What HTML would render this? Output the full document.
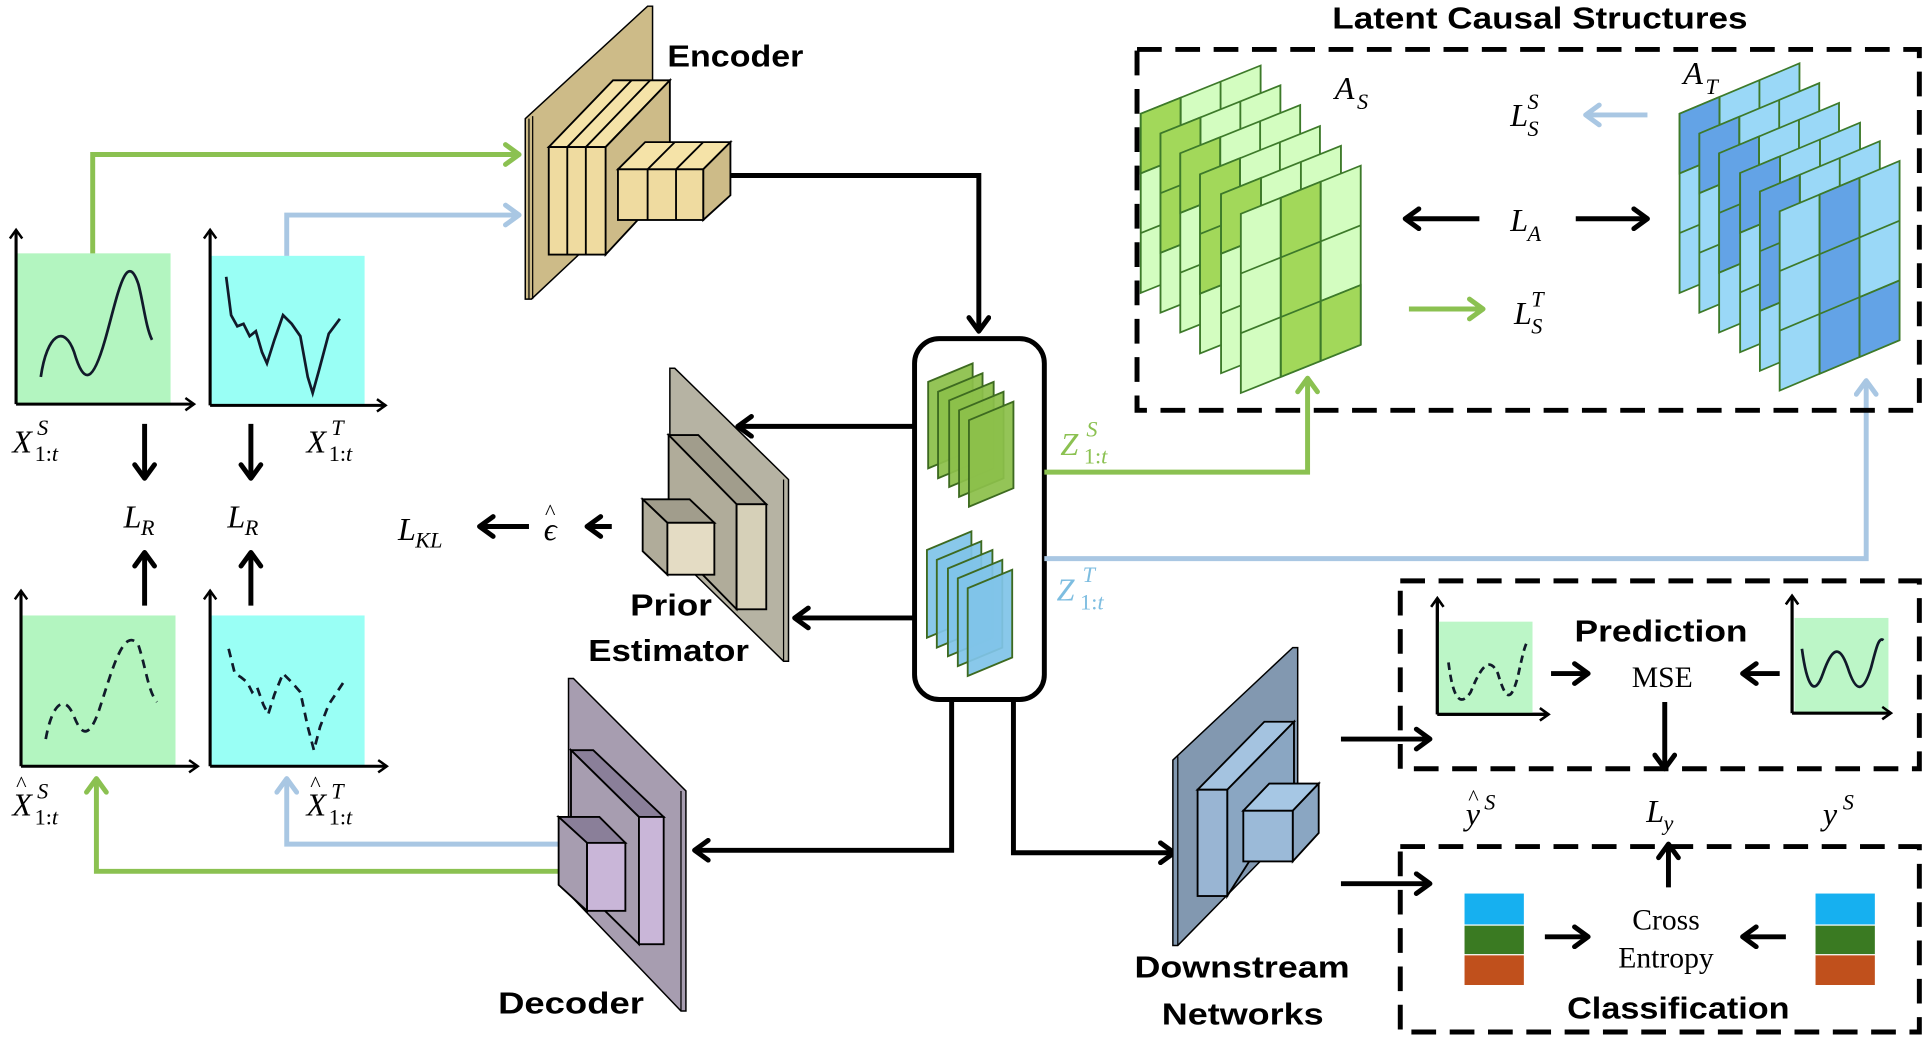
<!DOCTYPE html>
<html><head><meta charset="utf-8"><style>
html,body{margin:0;padding:0;background:#fff;}
svg{display:block;}
.lb{font-family:"Liberation Sans",sans-serif;font-weight:bold;font-size:25px;fill:#000;}
.m{font-family:"Liberation Serif",serif;font-style:italic;}
.r{font-family:"Liberation Serif",serif;}
</style></head><body>
<svg width="1928" height="1040" viewBox="0 0 1560 841.5" xmlns="http://www.w3.org/2000/svg">
<defs>
<marker id="ak" viewBox="0 0 20 20" refX="17" refY="10" markerWidth="20" markerHeight="20" markerUnits="userSpaceOnUse" orient="auto"><path d="M6,2 L17,10 L6,18" fill="none" stroke="#000" stroke-width="4" stroke-linecap="round" stroke-linejoin="round"/></marker>
<marker id="ag" viewBox="0 0 20 20" refX="17" refY="10" markerWidth="20" markerHeight="20" markerUnits="userSpaceOnUse" orient="auto"><path d="M6,2 L17,10 L6,18" fill="none" stroke="#8bc151" stroke-width="4" stroke-linecap="round" stroke-linejoin="round"/></marker>
<marker id="ab" viewBox="0 0 20 20" refX="17" refY="10" markerWidth="20" markerHeight="20" markerUnits="userSpaceOnUse" orient="auto"><path d="M6,2 L17,10 L6,18" fill="none" stroke="#a9c7e3" stroke-width="4" stroke-linecap="round" stroke-linejoin="round"/></marker>
<marker id="ax" viewBox="0 0 12 12" refX="10" refY="6" markerWidth="12" markerHeight="12" markerUnits="userSpaceOnUse" orient="auto"><path d="M3,1 L10,6 L3,11" fill="none" stroke="#000" stroke-width="2"/></marker>
</defs>

<!-- Left plots -->
<rect x="13" y="205" width="125" height="122" fill="#b3f5c0"/>
<rect x="170" y="207" width="125" height="121" fill="#99fff5"/>
<rect x="17" y="498" width="125" height="122" fill="#b3f5c0"/>
<rect x="170" y="498" width="125" height="122" fill="#99fff5"/>
<g stroke="#000" stroke-width="2.5" fill="none" marker-end="url(#ax)">
<path d="M13,327 V186"/><path d="M13,327 H157"/>
<path d="M170,328 V186"/><path d="M170,328 H312"/>
<path d="M17,620 V478"/><path d="M17,620 H160"/>
<path d="M170,620 V478"/><path d="M170,620 H313"/>
<path d="M1163,578 V484"/><path d="M1163,578 H1253"/>
<path d="M1450,577 V482"/><path d="M1450,577 H1530"/>
</g>
<g stroke="#111a2a" stroke-width="2.2" fill="none">
<path d="M33,305 C38,270 52,262 60,285 C68,312 75,310 85,275 C95,240 102,200 112,230 C116,245 118,265 123,275"/>
<path d="M183,224 L187,255 L192,264 L197,262 L202,272 L207,268 L212,285 L216,294 L222,275 L229,255 L236,262 L243,272 L249,305 L253,318 L258,300 L266,270 L275,258"/>
<path stroke-dasharray="7,5" d="M37,598 C42,570 52,560 60,580 C66,595 72,598 80,575 C90,545 100,505 112,522 C118,540 120,560 127,568"/>
<path stroke-dasharray="7,5" d="M185,525 L190,545 L195,548 L200,552 L204,560 L208,556 L213,570 L217,578 L222,562 L229,545 L236,552 L243,560 L249,588 L254,607 L259,588 L266,570 L278,552"/>
<path stroke-dasharray="6,4" d="M1172,536 C1175,560 1180,575 1190,560 C1198,540 1205,530 1212,545 C1218,565 1222,570 1228,548 C1232,530 1234,520 1237,518"/>
<path d="M1458,525 C1462,555 1468,565 1475,545 C1482,525 1488,520 1495,540 C1502,562 1508,560 1514,540 C1518,525 1520,515 1524,518"/>
</g>

<!-- Left labels -->
<g class="m" font-size="26">
<text x="10" y="366">X</text><text x="30" y="352" font-size="18">S</text><text x="28" y="373" font-size="18" font-style="normal">1:<tspan font-style="italic">t</tspan></text>
<text x="248" y="366">X</text><text x="268" y="352" font-size="18">T</text><text x="266" y="373" font-size="18" font-style="normal">1:<tspan font-style="italic">t</tspan></text>
<text x="100" y="427">L</text><text x="114" y="433" font-size="18">R</text>
<text x="184" y="427">L</text><text x="198" y="433" font-size="18">R</text>
<text x="10" y="660">X</text><text x="13" y="640" font-size="18" font-style="normal">^</text><text x="30" y="646" font-size="18">S</text><text x="28" y="667" font-size="18" font-style="normal">1:<tspan font-style="italic">t</tspan></text>
<text x="248" y="660">X</text><text x="251" y="640" font-size="18" font-style="normal">^</text><text x="268" y="646" font-size="18">T</text><text x="266" y="667" font-size="18" font-style="normal">1:<tspan font-style="italic">t</tspan></text>
<text x="322" y="437">L</text><text x="336" y="443" font-size="18">KL</text>
<text x="440" y="437">ϵ</text><text x="441" y="420" font-size="18" font-style="normal">^</text>
</g>
<g stroke="#000" stroke-width="4" fill="none" marker-end="url(#ak)">
<path d="M117,343 V387"/><path d="M203,343 V387"/>
<path d="M117,490 V447"/><path d="M203,490 V447"/>
<path d="M495,426 H475"/><path d="M428,426 H388"/>
</g>

<!-- input lines -->
<path d="M75,205 V125 H420" stroke="#8bc151" stroke-width="4" fill="none" marker-end="url(#ag)"/>
<path d="M232,207 V174 H420" stroke="#a9c7e3" stroke-width="4" fill="none" marker-end="url(#ab)"/>
<path d="M455,683 H232 V630" stroke="#a9c7e3" stroke-width="4" fill="none" marker-end="url(#ab)"/>
<path d="M455,705 H78 V630" stroke="#8bc151" stroke-width="4" fill="none" marker-end="url(#ag)"/>

<!-- Encoder -->
<polygon points="425,96 524,5 528,5 528,150 430,242 425,242" fill="#cdbb88" stroke="#000" stroke-width="1.2"/>
<line x1="428" y1="96" x2="428" y2="242" stroke="#000" stroke-width="1"/>
<line x1="431" y1="94" x2="431" y2="242" stroke="#000" stroke-width="1"/>
<polygon points="444,119 490,119 542,65 496,65" fill="#f5e3a8" stroke="#000" stroke-width="1.5"/>
<line x1="459" y1="119" x2="511" y2="65" stroke="#000" stroke-width="1.5"/>
<line x1="474" y1="119" x2="526" y2="65" stroke="#000" stroke-width="1.5"/>
<polygon points="490,119 542,65 542,150 490,206" fill="#cdbb88" stroke="#000" stroke-width="1.5"/>
<rect x="444" y="119" width="46" height="87" fill="#efdba0" stroke="#000" stroke-width="1.5"/>
<line x1="459" y1="119" x2="459" y2="206" stroke="#000" stroke-width="1.5"/>
<line x1="474" y1="119" x2="474" y2="206" stroke="#000" stroke-width="1.5"/>
<polygon points="500,137 569,137 591,115 522,115" fill="#f5e3a8" stroke="#000" stroke-width="1.5"/>
<line x1="524" y1="137" x2="546" y2="115" stroke="#000" stroke-width="1.5"/>
<line x1="547" y1="137" x2="569" y2="115" stroke="#000" stroke-width="1.5"/>
<polygon points="569,137 591,115 591,158 569,178" fill="#cdbb88" stroke="#000" stroke-width="1.5"/>
<rect x="500" y="137" width="69" height="41" fill="#efdba0" stroke="#000" stroke-width="1.5"/>
<line x1="524" y1="137" x2="524" y2="178" stroke="#000" stroke-width="1.5"/>
<line x1="547" y1="137" x2="547" y2="178" stroke="#000" stroke-width="1.5"/>
<text class="lb" x="540" y="54" textLength="110" lengthAdjust="spacingAndGlyphs">Encoder</text>
<path d="M591,142 H792 V268" stroke="#000" stroke-width="4" fill="none" marker-end="url(#ak)"/>

<!-- Prior estimator -->
<polygon points="542,298 546,298 638,388 638,535 634,535 542,445" fill="#b6b3a3" stroke="#000" stroke-width="1.2"/>
<line x1="634" y1="388" x2="634" y2="535" stroke="#000" stroke-width="1"/>
<polygon points="541,352 565,352 620,408 596,408" fill="#a19d8c" stroke="#000" stroke-width="1.5"/>
<polygon points="541,352 596,408 596,493 541,437" fill="#b0ac9a" stroke="#000" stroke-width="1.5"/>
<rect x="596" y="408" width="24" height="85" fill="#d6d0b8" stroke="#000" stroke-width="1.5"/>
<polygon points="520,404 558,404 578,423 540,423" fill="#a19d8c" stroke="#000" stroke-width="1.5"/>
<polygon points="520,404 540,423 540,465 520,446" fill="#b0ac9a" stroke="#000" stroke-width="1.5"/>
<rect x="540" y="423" width="38" height="42" fill="#e4dcc4" stroke="#000" stroke-width="1.5"/>
<text class="lb" x="510" y="498" textLength="66" lengthAdjust="spacingAndGlyphs">Prior</text>
<text class="lb" x="476" y="535" textLength="130" lengthAdjust="spacingAndGlyphs">Estimator</text>

<!-- Decoder -->
<polygon points="460,549 464,549 555,640 555,818 551,818 460,723" fill="#a79db0" stroke="#000" stroke-width="1.2"/>
<line x1="551" y1="640" x2="551" y2="818" stroke="#000" stroke-width="1"/>
<polygon points="462,607 480,607 537,661 517,661" fill="#8a7f99" stroke="#000" stroke-width="1.5"/>
<polygon points="462,607 517,661 517,764 462,710" fill="#a79db0" stroke="#000" stroke-width="1.5"/>
<rect x="517" y="661" width="20" height="103" fill="#c9b6d8" stroke="#000" stroke-width="1.5"/>
<polygon points="452,661 485,661 506,682 475,682" fill="#8a7f99" stroke="#000" stroke-width="1.5"/>
<polygon points="452,661 475,682 475,737 452,716" fill="#a79db0" stroke="#000" stroke-width="1.5"/>
<rect x="475" y="682" width="31" height="55" fill="#c9b6d8" stroke="#000" stroke-width="1.5"/>
<text class="lb" x="403" y="820" textLength="118" lengthAdjust="spacingAndGlyphs">Decoder</text>

<!-- center box -->
<rect x="740" y="274" width="105" height="292" rx="20" fill="#fff" stroke="#000" stroke-width="4"/>
<g stroke="#3d6a20" stroke-width="1.5" fill="#8cc04a" fill-opacity="0.93">
<polygon points="751,309 787,294 787,364 751,379"/>
<polygon points="759,317 795,302 795,372 759,387"/>
<polygon points="768,324 804,309 804,379 768,394"/>
<polygon points="776,332 812,317 812,387 776,402"/>
<polygon points="784,340 820,325 820,395 784,410"/>
</g>
<g stroke="#3d6a20" stroke-width="1.5" fill="#80c4e8" fill-opacity="0.93">
<polygon points="750,445 786,430 786,501 750,516"/>
<polygon points="758,453 794,438 794,509 758,524"/>
<polygon points="767,460 803,445 803,516 767,531"/>
<polygon points="775,468 811,453 811,524 775,539"/>
<polygon points="783,476 819,461 819,532 783,547"/>
</g>
<g stroke="#000" stroke-width="4" fill="none" marker-end="url(#ak)">
<path d="M740,345 H597"/><path d="M740,500 H643"/>
<path d="M770,566 V688 H562"/><path d="M820,566 V690 H950"/>
<path d="M1085,598 H1157"/><path d="M1085,715 H1157"/>
</g>
<path d="M845,382 H1058 V306" stroke="#8bc151" stroke-width="4" fill="none" marker-end="url(#ag)"/>
<path d="M845,452 H1510 V308" stroke="#a9c7e3" stroke-width="4" fill="none" marker-end="url(#ab)"/>
<g class="m" font-size="26" fill="#8bc151">
<text x="858" y="368">Z</text><text x="879" y="353" font-size="18">S</text><text x="877" y="375" font-size="18" font-style="normal">1:<tspan font-style="italic">t</tspan></text>
</g>
<g class="m" font-size="26" fill="#7dbde0">
<text x="855" y="486">Z</text><text x="876" y="471" font-size="18">T</text><text x="874" y="493" font-size="18" font-style="normal">1:<tspan font-style="italic">t</tspan></text>
</g>

<!-- Latent causal structures -->
<text class="lb" x="1078" y="23" textLength="336" lengthAdjust="spacingAndGlyphs">Latent Causal Structures</text>
<rect x="920" y="40" width="633" height="292" fill="none" stroke="#000" stroke-width="4" stroke-dasharray="20,11"/>
<g stroke="#3d7a2a" stroke-width="1.5">
<g transform="matrix(1,-0.402,0,1,923,92)"><rect width="97" height="145" fill="#d3fdc0"/><rect width="32.3" height="48.3" fill="#a2d85a"/><path d="M32.3,0V145M64.6,0V145M0,48.3H97M0,96.6H97" fill="none"/></g>
<g transform="matrix(1,-0.402,0,1,939,108)"><rect width="97" height="145" fill="#d3fdc0"/><rect width="32.3" height="96.6" fill="#a2d85a"/><path d="M32.3,0V145M64.6,0V145M0,48.3H97M0,96.6H97" fill="none"/></g>
<g transform="matrix(1,-0.402,0,1,955,124)"><rect width="97" height="145" fill="#d3fdc0"/><rect width="32.3" height="48.3" fill="#a2d85a"/><path d="M32.3,0V145M64.6,0V145M0,48.3H97M0,96.6H97" fill="none"/></g>
<g transform="matrix(1,-0.402,0,1,971,141)"><rect width="97" height="145" fill="#d3fdc0"/><rect width="32.3" height="96.6" fill="#a2d85a"/><path d="M32.3,0V145M64.6,0V145M0,48.3H97M0,96.6H97" fill="none"/></g>
<g transform="matrix(1,-0.402,0,1,988,157)"><rect width="97" height="145" fill="#d3fdc0"/><rect width="32.3" height="48.3" fill="#a2d85a"/><path d="M32.3,0V145M64.6,0V145M0,48.3H97M0,96.6H97" fill="none"/></g>
<g transform="matrix(1,-0.402,0,1,1004,173)"><rect width="97" height="145" fill="#d3fdc0"/><rect x="32.3" width="32.3" height="145" fill="#a2d85a"/><rect x="64.6" y="96.6" width="32.4" height="48.4" fill="#a2d85a"/><path d="M32.3,0V145M64.6,0V145M0,48.3H97M0,96.6H97" fill="none"/></g>
</g>
<g stroke="#3d7a2a" stroke-width="1.5">
<g transform="matrix(1,-0.42,0,1,1359,92)"><rect width="97" height="145" fill="#9ad8f7"/><rect width="32.3" height="48.3" fill="#63a3e6"/><path d="M32.3,0V145M64.6,0V145M0,48.3H97M0,96.6H97" fill="none"/></g>
<g transform="matrix(1,-0.42,0,1,1375,108)"><rect width="97" height="145" fill="#9ad8f7"/><rect width="32.3" height="48.3" fill="#63a3e6"/><path d="M32.3,0V145M64.6,0V145M0,48.3H97M0,96.6H97" fill="none"/></g>
<g transform="matrix(1,-0.42,0,1,1391,124)"><rect width="97" height="145" fill="#9ad8f7"/><rect width="32.3" height="96.6" fill="#63a3e6"/><path d="M32.3,0V145M64.6,0V145M0,48.3H97M0,96.6H97" fill="none"/></g>
<g transform="matrix(1,-0.42,0,1,1408,140)"><rect width="97" height="145" fill="#9ad8f7"/><rect width="32.3" height="48.3" fill="#63a3e6"/><path d="M32.3,0V145M64.6,0V145M0,48.3H97M0,96.6H97" fill="none"/></g>
<g transform="matrix(1,-0.42,0,1,1424,155)"><rect width="97" height="145" fill="#9ad8f7"/><rect width="32.3" height="96.6" fill="#63a3e6"/><path d="M32.3,0V145M64.6,0V145M0,48.3H97M0,96.6H97" fill="none"/></g>
<g transform="matrix(1,-0.42,0,1,1440,171)"><rect width="97" height="145" fill="#9ad8f7"/><rect x="32.3" width="32.3" height="145" fill="#63a3e6"/><rect x="64.6" y="96.6" width="32.4" height="48.4" fill="#63a3e6"/><path d="M32.3,0V145M64.6,0V145M0,48.3H97M0,96.6H97" fill="none"/></g>
</g>
<g class="m" font-size="26">
<text x="1080" y="80">A</text><text x="1098" y="88" font-size="18">S</text>
<text x="1362" y="68">A</text><text x="1380" y="76" font-size="18">T</text>
<text x="1222" y="102">L</text><text x="1236" y="88" font-size="18">S</text><text x="1236" y="110" font-size="18">S</text>
<text x="1222" y="187">L</text><text x="1236" y="195" font-size="18">A</text>
<text x="1225" y="262">L</text><text x="1239" y="248" font-size="18">T</text><text x="1239" y="270" font-size="18">S</text>
</g>
<path d="M1333,93 H1283" stroke="#a9c7e3" stroke-width="4" fill="none" marker-end="url(#ab)"/>
<path d="M1140,250 H1200" stroke="#8bc151" stroke-width="4" fill="none" marker-end="url(#ag)"/>
<g stroke="#000" stroke-width="4" fill="none" marker-end="url(#ak)">
<path d="M1197,177 H1137"/><path d="M1275,177 H1333"/>
</g>

<!-- Downstream -->
<polygon points="949,615 1046,524 1050,524 1050,666 953,765 949,765" fill="#8298b0" stroke="#000" stroke-width="1.2"/>
<line x1="953" y1="612" x2="953" y2="765" stroke="#000" stroke-width="1"/>
<polygon points="969,639 993,639 1047,584 1023,584" fill="#a4c3e0" stroke="#000" stroke-width="1.5"/>
<polygon points="993,639 1047,584 1047,640 993,725" fill="#8aa6c2" stroke="#000" stroke-width="1.5"/>
<rect x="969" y="639" width="24" height="86" fill="#99b5d3" stroke="#000" stroke-width="1.5"/>
<polygon points="1006,656 1046,656 1067,634 1027,634" fill="#a6c7e4" stroke="#000" stroke-width="1.5"/>
<polygon points="1046,656 1067,634 1067,674 1046,697" fill="#8aa6c2" stroke="#000" stroke-width="1.5"/>
<rect x="1006" y="656" width="40" height="41" fill="#9bbad8" stroke="#000" stroke-width="1.5"/>
<text class="lb" x="918" y="791" textLength="174" lengthAdjust="spacingAndGlyphs">Downstream</text>
<text class="lb" x="940" y="829" textLength="131" lengthAdjust="spacingAndGlyphs">Networks</text>

<!-- Prediction / Classification -->
<rect x="1133" y="470" width="420" height="152" fill="none" stroke="#000" stroke-width="4" stroke-dasharray="20,11"/>
<rect x="1133" y="685" width="420" height="150" fill="none" stroke="#000" stroke-width="4" stroke-dasharray="20,11"/>
<rect x="1164" y="503" width="76" height="75" fill="#b8f5c4" opacity="0.95"/>
<rect x="1452" y="500" width="76" height="77" fill="#b8f5c4" opacity="0.95"/>
<g stroke="#000" stroke-width="2.5" fill="none" marker-end="url(#ax)">
<path d="M1163,578 V484"/><path d="M1163,578 H1253"/>
<path d="M1450,577 V482"/><path d="M1450,577 H1530"/>
</g>
<g stroke="#111a2a" stroke-width="2.2" fill="none">
<path stroke-dasharray="6,4" d="M1172,536 C1175,560 1180,575 1190,560 C1198,540 1205,530 1212,545 C1218,565 1222,570 1228,548 C1232,530 1234,520 1237,518"/>
<path d="M1458,525 C1462,555 1468,565 1475,545 C1482,525 1488,520 1495,540 C1502,562 1508,560 1514,540 C1518,525 1520,515 1524,518"/>
</g>
<text class="lb" x="1274" y="519" textLength="140" lengthAdjust="spacingAndGlyphs">Prediction</text>
<text class="r" x="1345" y="556" font-size="24" text-anchor="middle">MSE</text>
<text class="r" x="1348" y="752" font-size="24" text-anchor="middle">Cross</text>
<text class="r" x="1348" y="783" font-size="24" text-anchor="middle">Entropy</text>
<text class="lb" x="1268" y="824" textLength="180" lengthAdjust="spacingAndGlyphs">Classification</text>
<g stroke="#000" stroke-width="4" fill="none" marker-end="url(#ak)">
<path d="M1255,545 H1285"/><path d="M1440,545 H1410"/>
<path d="M1347,568 V622"/><path d="M1350,718 V683"/>
<path d="M1250,758 H1285"/><path d="M1445,758 H1410"/>
</g>
<g class="m" font-size="26">
<text x="1186" y="667">y</text><text x="1188" y="651" font-size="18" font-style="normal">^</text><text x="1201" y="655" font-size="18">S</text>
<text x="1332" y="665">L</text><text x="1346" y="672" font-size="18">y</text>
<text x="1475" y="667">y</text><text x="1491" y="655" font-size="18">S</text>
</g>
<rect x="1185" y="723" width="48" height="25" fill="#16b0f0"/>
<rect x="1185" y="749" width="48" height="23" fill="#3a7a22"/>
<rect x="1185" y="773" width="48" height="24" fill="#c0501c"/>
<rect x="1469" y="723" width="48" height="25" fill="#16b0f0"/>
<rect x="1469" y="749" width="48" height="23" fill="#3a7a22"/>
<rect x="1469" y="773" width="48" height="24" fill="#c0501c"/>
</svg>
</body></html>
